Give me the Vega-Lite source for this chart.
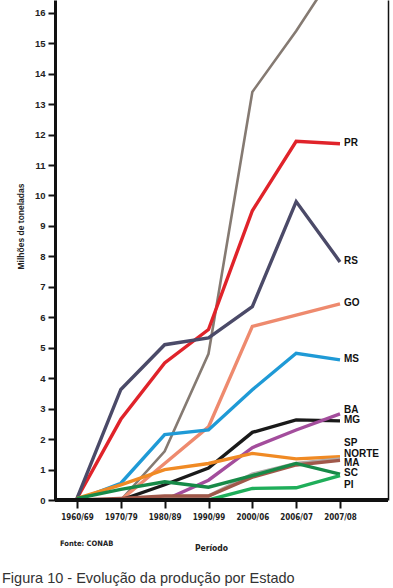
{
  "$schema": "https://vega.github.io/schema/vega-lite/v6.json",
  "width": 333,
  "height": 500,
  "autosize": {"type": "none"},
  "padding": {"left": 55, "top": 0, "right": 5, "bottom": 88},
  "background": "white",
  "config": {"view": {"stroke": null}, "font": "Liberation Sans"},
  "title": {
    "text": "Figura 10 - Evolução da produção por Estado",
    "orient": "bottom",
    "anchor": "start",
    "frame": "group",
    "dx": -53,
    "offset": 20,
    "fontSize": 14.5,
    "fontWeight": "normal",
    "color": "#333333",
    "font": "Liberation Sans"
  },
  "datasets": {
    "prod": [
      {"state": "MT", "period": "1960/69", "value": 0},
      {"state": "MT", "period": "1970/79", "value": 0},
      {"state": "MT", "period": "1980/89", "value": 1.6},
      {"state": "MT", "period": "1990/99", "value": 4.8},
      {"state": "MT", "period": "2000/06", "value": 13.4},
      {"state": "MT", "period": "2006/07", "value": 15.4},
      {"state": "MT", "period": "2007/08", "value": 17.6},
      {"state": "PR", "period": "1960/69", "value": 0.05},
      {"state": "PR", "period": "1970/79", "value": 2.65},
      {"state": "PR", "period": "1980/89", "value": 4.5},
      {"state": "PR", "period": "1990/99", "value": 5.6},
      {"state": "PR", "period": "2000/06", "value": 9.5},
      {"state": "PR", "period": "2006/07", "value": 11.78},
      {"state": "PR", "period": "2007/08", "value": 11.7},
      {"state": "RS", "period": "1960/69", "value": 0.05},
      {"state": "RS", "period": "1970/79", "value": 3.63},
      {"state": "RS", "period": "1980/89", "value": 5.1},
      {"state": "RS", "period": "1990/99", "value": 5.32},
      {"state": "RS", "period": "2000/06", "value": 6.35},
      {"state": "RS", "period": "2006/07", "value": 9.8},
      {"state": "RS", "period": "2007/08", "value": 7.82},
      {"state": "GO", "period": "1960/69", "value": 0},
      {"state": "GO", "period": "1970/79", "value": 0},
      {"state": "GO", "period": "1980/89", "value": 1.2},
      {"state": "GO", "period": "1990/99", "value": 2.4},
      {"state": "GO", "period": "2000/06", "value": 5.7},
      {"state": "GO", "period": "2006/07", "value": 6.07},
      {"state": "GO", "period": "2007/08", "value": 6.44},
      {"state": "MS", "period": "1960/69", "value": 0},
      {"state": "MS", "period": "1970/79", "value": 0.55},
      {"state": "MS", "period": "1980/89", "value": 2.15},
      {"state": "MS", "period": "1990/99", "value": 2.3},
      {"state": "MS", "period": "2000/06", "value": 3.62},
      {"state": "MS", "period": "2006/07", "value": 4.82},
      {"state": "MS", "period": "2007/08", "value": 4.6},
      {"state": "MG", "period": "1960/69", "value": 0},
      {"state": "MG", "period": "1970/79", "value": 0},
      {"state": "MG", "period": "1980/89", "value": 0.5},
      {"state": "MG", "period": "1990/99", "value": 1.05},
      {"state": "MG", "period": "2000/06", "value": 2.22},
      {"state": "MG", "period": "2006/07", "value": 2.63},
      {"state": "MG", "period": "2007/08", "value": 2.6},
      {"state": "BA", "period": "1960/69", "value": 0},
      {"state": "BA", "period": "1970/79", "value": 0},
      {"state": "BA", "period": "1980/89", "value": 0},
      {"state": "BA", "period": "1990/99", "value": 0.65},
      {"state": "BA", "period": "2000/06", "value": 1.72},
      {"state": "BA", "period": "2006/07", "value": 2.3},
      {"state": "BA", "period": "2007/08", "value": 2.83},
      {"state": "SP", "period": "1960/69", "value": 0.05},
      {"state": "SP", "period": "1970/79", "value": 0.5},
      {"state": "SP", "period": "1980/89", "value": 1.0},
      {"state": "SP", "period": "1990/99", "value": 1.2},
      {"state": "SP", "period": "2000/06", "value": 1.53},
      {"state": "SP", "period": "2006/07", "value": 1.35},
      {"state": "SP", "period": "2007/08", "value": 1.42},
      {"state": "NORTE", "period": "1960/69", "value": 0},
      {"state": "NORTE", "period": "1970/79", "value": 0},
      {"state": "NORTE", "period": "1980/89", "value": 0.1},
      {"state": "NORTE", "period": "1990/99", "value": 0.13},
      {"state": "NORTE", "period": "2000/06", "value": 0.85},
      {"state": "NORTE", "period": "2006/07", "value": 1.2},
      {"state": "NORTE", "period": "2007/08", "value": 1.35},
      {"state": "MA", "period": "1960/69", "value": 0},
      {"state": "MA", "period": "1970/79", "value": 0.05},
      {"state": "MA", "period": "1980/89", "value": 0.13},
      {"state": "MA", "period": "1990/99", "value": 0.13},
      {"state": "MA", "period": "2000/06", "value": 0.75},
      {"state": "MA", "period": "2006/07", "value": 1.15},
      {"state": "MA", "period": "2007/08", "value": 1.3},
      {"state": "SC", "period": "1960/69", "value": 0.05},
      {"state": "SC", "period": "1970/79", "value": 0.35},
      {"state": "SC", "period": "1980/89", "value": 0.6},
      {"state": "SC", "period": "1990/99", "value": 0.42},
      {"state": "SC", "period": "2000/06", "value": 0.8},
      {"state": "SC", "period": "2006/07", "value": 1.2},
      {"state": "SC", "period": "2007/08", "value": 0.85},
      {"state": "PI", "period": "1960/69", "value": 0},
      {"state": "PI", "period": "1970/79", "value": 0},
      {"state": "PI", "period": "1980/89", "value": 0},
      {"state": "PI", "period": "1990/99", "value": 0},
      {"state": "PI", "period": "2000/06", "value": 0.38},
      {"state": "PI", "period": "2006/07", "value": 0.4},
      {"state": "PI", "period": "2007/08", "value": 0.8}
    ]
  },
  "data": {"name": "prod"},
  "resolve": {"axis": {"y": "independent"}},
  "layer": [
    {
      "mark": {"type": "line", "clip": true, "strokeCap": "butt", "strokeJoin": "miter"},
      "encoding": {
        "x": {
          "field": "period",
          "type": "ordinal",
          "sort": ["1960/69", "1970/79", "1980/89", "1990/99", "2000/06", "2006/07", "2007/08"],
          "scale": {"type": "point", "range": [22, 285], "padding": 0},
          "axis": {
            "title": "Período",
            "titleFont": "'DejaVu Sans Condensed', 'Liberation Sans'",
            "titleFontSize": 8.5,
            "titleFontWeight": "bold",
            "titleColor": "#222222",
            "titleX": 156,
            "titleY": 47,
            "titleBaseline": "middle",
            "labelAngle": 0,
            "labelFont": "'DejaVu Sans Condensed', 'Liberation Sans'",
            "labelFontSize": 8,
            "labelFontWeight": "bold",
            "labelColor": "#222222",
            "labelPadding": 5,
            "domain": false,
            "tickColor": "#111111",
            "tickWidth": 2,
            "tickSize": 8,
            "grid": false
          }
        },
        "y": {
          "field": "value",
          "type": "quantitative",
          "scale": {"domain": [0, 16.42], "nice": false, "zero": true},
          "axis": {
            "orient": "left",
            "values": [0, 1, 2, 3, 4, 5, 6, 7, 8, 9, 10, 11, 12, 13, 14, 15, 16],
            "title": "Milhões de toneladas",
            "titleFont": "Liberation Sans",
            "titleFontSize": 8.5,
            "titleFontWeight": "bold",
            "titleColor": "#222222",
            "titleAngle": -90,
            "titleX": -35,
            "titleY": 226,
            "titleAlign": "center",
            "titleBaseline": "middle",
            "labelFont": "Liberation Sans",
            "labelFontSize": 9.5,
            "labelFontWeight": "bold",
            "labelColor": "#222222",
            "labelPadding": 3,
            "domainColor": "#111111",
            "domainWidth": 3,
            "tickColor": "#111111",
            "tickWidth": 2,
            "tickSize": 7,
            "grid": false
          }
        },
        "color": {
          "field": "state",
          "type": "nominal",
          "legend": null,
          "scale": {
            "domain": ["MT", "PR", "RS", "GO", "MS", "MG", "BA", "SP", "NORTE", "MA", "SC", "PI"],
            "range": ["#857a72", "#e0232a", "#4b4a68", "#ee8a6e", "#1f9ad6", "#1a1a1a", "#a34d9c", "#f08a24", "#b0aaa8", "#a0584a", "#178a48", "#1fae5a"]
          }
        },
        "strokeWidth": {
          "condition": {"test": "datum.state === 'MT'", "value": 2.6},
          "value": 3.4
        }
      }
    },
    {
      "mark": {"type": "rule", "color": "#111111", "strokeWidth": 3},
      "encoding": {"y": {"datum": 0, "type": "quantitative", "axis": null}}
    },
    {
      "transform": [{"filter": "datum.period === '2007/08' && indexof(['PR','RS','GO','MS','MG','SC'], datum.state) >= 0"}],
      "mark": {"type": "text", "align": "left", "baseline": "middle", "dx": 4, "dy": -1, "fontSize": 10, "fontWeight": "bold", "font": "Liberation Sans", "color": "#111111"},
      "encoding": {
        "x": {"field": "period", "type": "ordinal", "sort": ["1960/69", "1970/79", "1980/89", "1990/99", "2000/06", "2006/07", "2007/08"]},
        "y": {"field": "value", "type": "quantitative", "axis": {"orient": "right", "labels": false, "ticks": false, "title": null, "grid": false, "domainColor": "#111111", "domainWidth": 1.5}},
        "text": {"field": "state"}
      }
    },
    {
      "transform": [{"filter": "datum.period === '2007/08' && datum.state === 'BA'"}],
      "mark": {"type": "text", "align": "left", "baseline": "middle", "dx": 4, "dy": -4, "fontSize": 10, "fontWeight": "bold", "font": "Liberation Sans", "color": "#111111"},
      "encoding": {
        "x": {"field": "period", "type": "ordinal", "sort": ["1960/69", "1970/79", "1980/89", "1990/99", "2000/06", "2006/07", "2007/08"]},
        "y": {"field": "value", "type": "quantitative", "axis": null},
        "text": {"field": "state"}
      }
    },
    {
      "transform": [{"filter": "datum.period === '2007/08' && datum.state === 'SP'"}],
      "mark": {"type": "text", "align": "left", "baseline": "middle", "dx": 4, "dy": -14, "fontSize": 10, "fontWeight": "bold", "font": "Liberation Sans", "color": "#111111"},
      "encoding": {
        "x": {"field": "period", "type": "ordinal", "sort": ["1960/69", "1970/79", "1980/89", "1990/99", "2000/06", "2006/07", "2007/08"]},
        "y": {"field": "value", "type": "quantitative", "axis": null},
        "text": {"field": "state"}
      }
    },
    {
      "transform": [{"filter": "datum.period === '2007/08' && datum.state === 'NORTE'"}],
      "mark": {"type": "text", "align": "left", "baseline": "middle", "dx": 4, "dy": -5, "fontSize": 10, "fontWeight": "bold", "font": "Liberation Sans", "color": "#111111"},
      "encoding": {
        "x": {"field": "period", "type": "ordinal", "sort": ["1960/69", "1970/79", "1980/89", "1990/99", "2000/06", "2006/07", "2007/08"]},
        "y": {"field": "value", "type": "quantitative", "axis": null},
        "text": {"field": "state"}
      }
    },
    {
      "transform": [{"filter": "datum.period === '2007/08' && datum.state === 'MA'"}],
      "mark": {"type": "text", "align": "left", "baseline": "middle", "dx": 4, "dy": 3, "fontSize": 10, "fontWeight": "bold", "font": "Liberation Sans", "color": "#111111"},
      "encoding": {
        "x": {"field": "period", "type": "ordinal", "sort": ["1960/69", "1970/79", "1980/89", "1990/99", "2000/06", "2006/07", "2007/08"]},
        "y": {"field": "value", "type": "quantitative", "axis": null},
        "text": {"field": "state"}
      }
    },
    {
      "transform": [{"filter": "datum.period === '2007/08' && datum.state === 'PI'"}],
      "mark": {"type": "text", "align": "left", "baseline": "middle", "dx": 4, "dy": 9, "fontSize": 10, "fontWeight": "bold", "font": "Liberation Sans", "color": "#111111"},
      "encoding": {
        "x": {"field": "period", "type": "ordinal", "sort": ["1960/69", "1970/79", "1980/89", "1990/99", "2000/06", "2006/07", "2007/08"]},
        "y": {"field": "value", "type": "quantitative", "axis": null},
        "text": {"field": "state"}
      }
    },
    {
      "data": {"values": [{"note": "Fonte: CONAB"}]},
      "mark": {"type": "text", "align": "left", "baseline": "middle", "fontSize": 7.5, "fontWeight": "bold", "font": "'DejaVu Sans Condensed', 'Liberation Sans'", "color": "#222222"},
      "encoding": {
        "x": {"value": 5},
        "y": {"value": 544},
        "text": {"field": "note"}
      }
    }
  ]
}
